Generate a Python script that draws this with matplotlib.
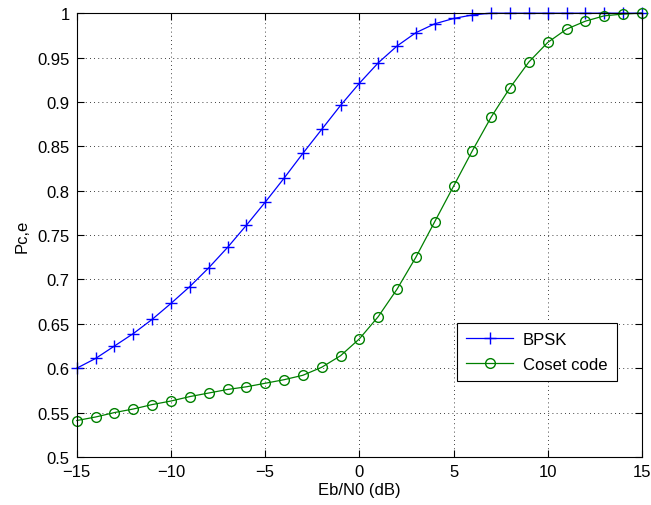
import numpy as np
import matplotlib.pyplot as plt

plt.rcParams['font.family'] = ['Liberation Sans', 'DejaVu Sans']

ebn0 = np.arange(-15, 16)
bpsk = [0.600, 0.611, 0.625, 0.639, 0.655, 0.673, 0.692, 0.713, 0.736, 0.761,
        0.787, 0.814, 0.842, 0.869, 0.896, 0.921, 0.944, 0.963, 0.978, 0.988,
        0.994, 0.998, 1.0, 1.0, 1.0, 1.0, 1.0, 1.0, 1.0, 1.0, 1.0]
coset = [0.541, 0.545, 0.550, 0.554, 0.559, 0.563, 0.568, 0.572, 0.576, 0.579,
         0.583, 0.587, 0.592, 0.601, 0.614, 0.633, 0.658, 0.689, 0.725, 0.765,
         0.805, 0.845, 0.883, 0.916, 0.945, 0.967, 0.982, 0.991, 0.997, 0.999, 1.0]

fig = plt.figure(figsize=(6.51, 5.06), dpi=100)
ax = fig.add_axes([0.118, 0.095, 0.868, 0.877])

ax.plot(ebn0, bpsk, color=(0, 0, 1), marker='+', markersize=8, lw=0.9,
        label='BPSK', clip_on=False)
ax.plot(ebn0, coset, color=(0, 0.5, 0), marker='o', markersize=7, lw=0.9,
        markerfacecolor='none', label='Coset code', clip_on=False)

ax.set_xlim(-15, 15)
ax.set_ylim(0.5, 1)
ax.set_xticks(np.arange(-15, 16, 5))
ax.set_yticks(np.arange(0.5, 1.001, 0.05))
ax.set_xticklabels(['\u221215', '\u221210', '\u22125', '0', '5', '10', '15'])
ax.set_yticklabels(['0.5', '0.55', '0.6', '0.65', '0.7', '0.75', '0.8',
                    '0.85', '0.9', '0.95', '1'])
ax.tick_params(direction='in', top=True, right=True, labelsize=12, length=5, pad=5)
ax.grid(True, color='black', linestyle=(0, (1, 4)), linewidth=0.6)
ax.set_xlabel('Eb/N0 (dB)', fontsize=12, labelpad=2)
ax.set_ylabel('Pc,e', fontsize=12, labelpad=6)
for s in ax.spines.values():
    s.set_linewidth(0.8)

leg = ax.legend(loc='lower left', bbox_to_anchor=(0.673, 0.171), fancybox=False,
                edgecolor='black', framealpha=1, fontsize=12, borderpad=0.55,
                labelspacing=0.6, handlelength=2.8, handletextpad=0.6,
                borderaxespad=0)
leg.get_frame().set_linewidth(0.8)

fig.savefig('out.png', dpi=100)
